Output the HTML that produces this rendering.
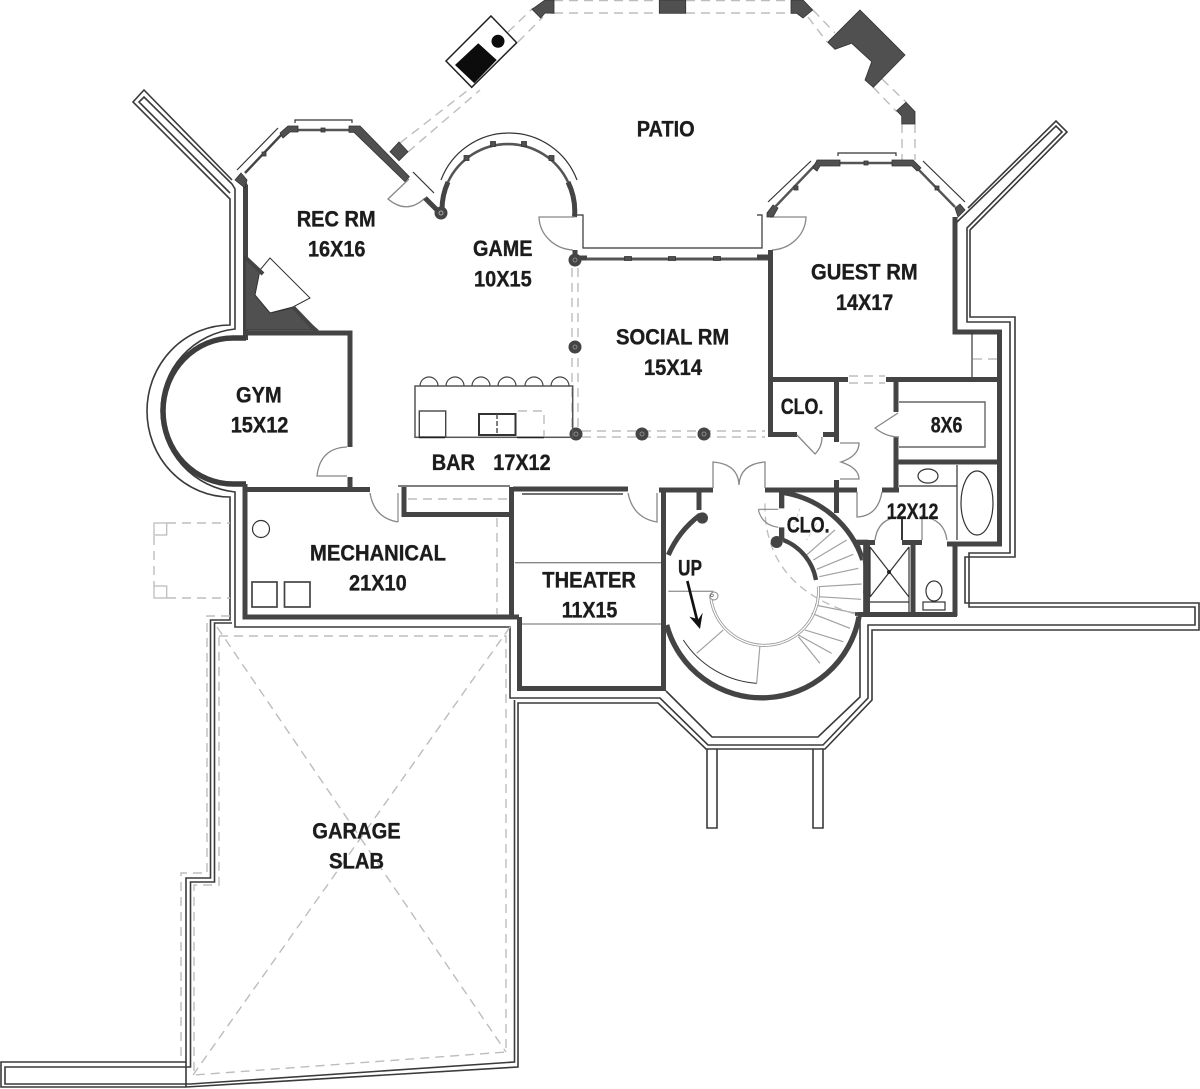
<!DOCTYPE html>
<html>
<head>
<meta charset="utf-8">
<style>
html,body{margin:0;padding:0;background:#fff}
svg{display:block}
text{font-family:"Liberation Sans",Arial,sans-serif;font-weight:bold;font-size:22px;fill:#1c1c1c;stroke:#1c1c1c;stroke-width:.35}
.w{fill:none;stroke:#444;stroke-width:5}
.o{fill:none;stroke:#3a3a3a;stroke-width:1.6}
.t{fill:none;stroke:#333;stroke-width:1.2}
.g{fill:none;stroke:#888;stroke-width:1.3}
.d{fill:none;stroke:#bdbdbd;stroke-width:1.4;stroke-dasharray:9 6}
.f{fill:#505050;stroke:#333;stroke-width:.8}
</style>
</head>
<body>
<svg xmlns="http://www.w3.org/2000/svg" width="1200" height="1089" viewBox="0 0 1200 1089">
<rect width="1200" height="1089" fill="#fff"/>

<!-- patio dashes -->
<path class="d" d="M554 .5H659M686 .5H791M554 13H659M686 13H791"/>
<path class="d" d="M400 143L472 87M408 152L480 90M508 32L533 8M518 42L543 17"/>
<path class="d" d="M808 17L827 42M813 10L835 33M873 87L897 112M882 79L906 102M902 124V160M915 124V160"/>
<polygon points="491,16 516.7,42.7 471.7,87.3 446,61" fill="#fff" stroke="#222" stroke-width="1.5"/>
<polygon points="478.3,43.3 496.7,60 474.3,83.3 455,65" fill="#0c0c0c"/>
<circle cx="498" cy="41.3" r="6.5" fill="#0c0c0c"/>
<polygon class="f" points="399,142 408,151.7 399,160.7 390,151.7"/>
<polygon class="f" points="545,0 554,0 554,13.3 545,13 540.7,18 532,9.3"/>
<rect class="f" x="659.3" y="0" width="26.4" height="13.3"/>
<polygon class="f" points="791,0 803,0 812.7,10 803,18 796.7,13.3 791,13.3"/>
<polygon class="f" points="860,10 905,55 873.3,87.3 865,80 871.7,61.7 851.7,43.3 835,49.3 827.7,42.3"/>
<polygon class="f" points="906,102.3 915,111.7 915,124 901.7,124 901.7,116 896.7,110.7"/>

<!-- outer foundation lines -->
<path class="o" d="M232 180L144 90L133 102L230 199V325A83 86 0 0 0 230 497V620H210.5V878H186V1062H1V1087H186L518 1067V703H658L706 749H825L872 700V630H1199V603H965V557H1015V317H970V230L1067 132L1056 121L968 208"/>
<path class="o" d="M230 193L139 102L144 97L232 184L235 189V329A83 82 0 0 0 235 492V627H510V698H660L708 745H823L868 698V625H1195V607H969V553H1010V322H967V228L1062 132L1056 126L957 222"/>
<path class="o" d="M232 623H214.5V882H190.5V1067H5V1084H190.5L514.5 1062V700M186 1062V1087M190.5 1062V1067"/>
<path class="o" d="M666 691L712 737H818L860 697V617"/>
<path class="o" d="M707 749V828H717V749M813 749V828H823V749"/>

<!-- garage dashed -->
<path class="d" d="M230 616H207V873H181V1060M219 636H506V1052L194 1075V885H219V636"/>
<path class="d" d="M217 627L506 1052M510 627L193 1075"/>

<!-- porch left -->
<path class="d" d="M167 523H230M167 598H230M154 536V586"/>
<rect x="154" y="523" width="12.7" height="12" fill="none" stroke="#bdbdbd" stroke-width="1.3"/>
<rect x="154" y="586" width="12.7" height="12" fill="none" stroke="#bdbdbd" stroke-width="1.3"/>

<!-- rec room -->
<path class="w" d="M241 178L245.5 186V340" stroke-width="4.5"/>
<polygon class="f" points="235,180 241,173 247,180 245,188"/>
<path d="M245 173L283 133" stroke="#444" stroke-width="2.4" fill="none"/>
<path class="t" d="M237 170L278 128"/>
<path class="t" d="M295 123V120H352V123"/>
<path d="M298 130H350" stroke="#555" stroke-width="2.4"/>
<rect class="f" x="321" y="128" width="4" height="4"/>
<rect class="f" x="262" y="152" width="4" height="4"/>
<polygon class="f" points="280,133 288,126 298,126 298,132 290,132 283,138"/>
<polygon class="f" points="349,126 360,126 409.3,176.7 405,181.7 354,132.3 349,132.3"/>
<path class="t" d="M413 172L434 193"/>
<path class="g" d="M409 179L388 199Q407 215 425 198"/>
<path class="w" d="M425 198L438 211"/>
<polygon class="f" points="245,257 263,273 255,295 270,313 293,308 318,330 245,330"/>
<polygon points="270,258 310,298 293,307 270,313 255,295 260,270" fill="#fff" stroke="#333" stroke-width="1"/>
<path d="M246 258L263 274M293 307L316 331" stroke="#444" stroke-width="4"/>

<!-- game arc -->
<path d="M448 182A66.4 66.4 0 0 1 568 182" fill="none" stroke="#555" stroke-width="2.6"/>
<path class="w" d="M442 210A66.4 66.4 0 0 1 448 182M568 182A66.4 66.4 0 0 1 574.5 217"/>
<path class="t" d="M441 180A72.7 72.7 0 0 1 577 180"/>
<rect class="f" x="464" y="155.5" width="5" height="5"/><rect class="f" x="490.5" y="141.5" width="5" height="5"/>
<rect class="f" x="521.5" y="141.5" width="5" height="5"/><rect class="f" x="549" y="155.5" width="5" height="5"/>
<circle cx="441" cy="213" r="6.5" fill="#444"/><circle cx="441" cy="213" r="2" fill="none" stroke="#aaa"/>
<path class="g" d="M575 217H539A36 34 0 0 0 573 250"/>
<path class="t" d="M577 215H583V248H762V215H757" stroke-width="1.4"/>
<path class="g" d="M770 217H806A36 34 0 0 1 772 250"/>

<!-- social room -->
<path d="M575 259H770" stroke="#555" stroke-width="3"/>
<rect class="f" x="624.5" y="256.5" width="7" height="4"/><rect class="f" x="668.5" y="256.5" width="7" height="4"/><rect class="f" x="713.5" y="256.5" width="7" height="4"/>
<path class="w" d="M575 250V262M575 258H587" stroke-width="5"/>
<path class="w" d="M757 257H770" stroke-width="6"/>
<path class="w" d="M770.5 250V437" stroke-width="5.5"/>
<path class="d" d="M572 268V428M578 268V428M582 431H765M582 437H765"/>
<g fill="#444">
<circle cx="575" cy="260" r="6.5"/><circle cx="575" cy="347" r="6.5"/><circle cx="576" cy="434" r="6.5"/><circle cx="642" cy="434" r="6.5"/><circle cx="704" cy="434" r="6.5"/>
</g>
<g fill="none" stroke="#999" stroke-width=".8">
<circle cx="575" cy="260" r="2"/><circle cx="575" cy="347" r="2"/><circle cx="576" cy="434" r="2"/><circle cx="642" cy="434" r="2"/><circle cx="704" cy="434" r="2"/>
</g>

<!-- guest room -->
<polygon class="f" points="767,213 773,205 778,208 773,217 767,217"/>
<path d="M775 207L817 163M840 163H892M917 168L955 207" stroke="#555" stroke-width="2.4" fill="none"/>
<path class="t" d="M768 202L811 161M838 156V153H896V156M923 161L965 202"/>
<rect class="f" x="864" y="161" width="4" height="4"/>
<rect class="f" x="794" y="186" width="4" height="4"/>
<rect class="f" x="935" y="186" width="4" height="4"/>
<polygon class="f" points="813,168 817,160 840,160 840,166 820,166 817,171"/>
<polygon class="f" points="892,160 913,160 921,168 917,171 912,166 892,166"/>
<polygon class="f" points="955,208 960,204 965,210 958,217"/>
<path class="w" d="M955 217V332H999.5V544H947" stroke-width="4.8"/>
<path class="t" d="M972 333V378"/>
<path class="d" d="M973 359H997" stroke-dasharray="7 5"/>
<path class="w" d="M768 379.5H848M886 379.5H999"/>
<path class="d" d="M849 376H885M849 383H885"/>

<!-- closets / hall -->
<path class="w" d="M768 434.5H797M823 434.5H838" stroke-width="5"/>
<path class="w" d="M836.5 380V442" stroke-width="6"/>
<path class="g" d="M797 435L815 454Q822 447 822 437"/>
<path class="w" d="M896 380V412M896 437V490"/>
<path class="g" d="M898 413L875 428Q886 437 899 437"/>
<path class="t" d="M899 402H985V447H899" style="stroke:#666;stroke-width:1.4"/>
<path class="w" d="M897 462H999" stroke-width="5.5"/>
<path class="t" d="M957 465V540M899 486H957"/>
<ellipse cx="977" cy="503" rx="16" ry="32" class="t"/>
<ellipse cx="928" cy="476" rx="10" ry="7" class="t"/>
<path class="w" d="M765 490H857M882 490H899M513 489H628M659 490H713" stroke-width="5"/>
<path class="w" d="M836.5 480V513" stroke-width="6"/>
<path class="g" d="M840 443H859Q859 456 841 462Q859 468 859 479H840"/>
<path class="g" d="M857 492V517Q878 516 882 492"/>
<path class="g" d="M713 488V462Q738 464 739 485Q740 464 765 462V488"/>
<path class="w" d="M855 542.5H875M902 542.5H922" stroke-width="5"/>
<path class="g" d="M875 540Q878 518 900 517"/>
<path d="M902 517V540" stroke="#222" stroke-width="1.8"/>
<path class="g" d="M922 515V540M923 517Q944 519 947 540"/>
<path class="w" d="M867.5 540V612" stroke-width="3.5"/>
<path class="w" d="M913 540V615" stroke-width="5.5"/>
<path class="w" d="M955 543V616" stroke-width="4.5"/>
<path class="w" d="M858 614.5H957" stroke-width="3.5"/>
<path class="t" d="M870 547L909 597M909 547L870 597M870 547V597M909 547V612M870 602H909"/>
<circle cx="889" cy="572" r="2" fill="#222"/>
<ellipse cx="934" cy="591" rx="8" ry="10" class="t"/>
<rect x="923" y="602" width="22" height="8" class="t"/>

<!-- gym -->
<path class="w" d="M246 338H233A70 73 0 0 0 233 484H246" style="stroke-width:5.5;stroke:#3d3d3d"/>
<path class="w" d="M245 333H350V447M350 477V490M245 489.5H370M245 484V617H519" stroke-width="5"/>
<path class="g" d="M347 447Q320 448 317 476H347"/>
<path class="t" d="M398 493V522" style="stroke:#888"/>
<path class="g" d="M370 493Q374 518 398 522"/>
<path class="w" d="M404 487V514.5H511" stroke-width="5"/>
<path class="t" d="M398 486H510"/>
<path class="w" d="M511.5 487V617" stroke-width="6"/>
<path class="d" d="M408 499H508M497 518V614"/>
<circle cx="261" cy="529" r="8.5" class="t"/>
<rect x="252" y="582" width="25" height="25" fill="none" stroke="#444" stroke-width="1.7"/>
<rect x="284.5" y="582" width="25.5" height="25" fill="none" stroke="#444" stroke-width="1.7"/>

<!-- theater -->
<path class="w" d="M519.5 617V688.5H666" stroke-width="4.5"/>
<path class="w" d="M663.5 490V688" stroke-width="5"/>
<path class="g" d="M515 562.7H661M522 624H661"/>
<path d="M522 494H623" stroke="#444" stroke-width="1.4"/>
<path class="g" d="M628 493Q633 518 657 522V493"/>

<!-- bar -->
<rect x="415" y="386" width="157.7" height="51.3" fill="none" stroke="#555" stroke-width="1.5"/>
<path class="t" d="M420 386a9 9 0 0 1 18 0M446 386a9 9 0 0 1 18 0M472 386a9 9 0 0 1 18 0M498 386a9 9 0 0 1 18 0M525 386a9 9 0 0 1 18 0M551 386a9 9 0 0 1 18 0" style="stroke:#444"/>
<rect x="419.3" y="411" width="26.4" height="26" fill="none" stroke="#444" stroke-width="1.4"/>
<rect x="479" y="414" width="36.5" height="21" fill="none" stroke="#333" stroke-width="2"/>
<path d="M497 414V435" stroke="#555" stroke-width="1.5" stroke-dasharray="5 2"/>
<path class="d" d="M518 411H544V436" stroke-dasharray="7 4"/>
<path d="M517 437.5H544M419 437.5H445" stroke="#222" stroke-width="1.6"/>

<!-- stairs -->
<g transform="translate(500 440) scale(.33333)">
<g fill="none" stroke="#a0a0a0" stroke-width="3.5">
<path d="M920 345L1005 270M940 360L1040 300M950 388L1060 343M958 410L1075 385M955 440L1085 432M955 470L1083 478M945 495L1070 520M935 520L1050 565M915 570L1030 605M895 585L995 640M895 590L960 670M780 615L770 730M670 570L590 640"/>
</g>
<path d="M505 454H640" stroke="#999" stroke-width="4"/>
<path d="M795 190Q790 440 1065 522" fill="none" stroke="#bdbdbd" stroke-width="4" stroke-dasharray="24 16"/>
<path d="M950 250L920 300M900 205L880 260" fill="none" stroke="#cfcfcf" stroke-width="3" stroke-dasharray="10 8"/>
<path d="M632 468A159 159 0 1 0 955 440" fill="none" stroke="#999" stroke-width="9"/>
<path d="M632 468A159 159 0 1 0 955 440" fill="none" stroke="#fff" stroke-width="4"/>
<circle cx="642" cy="468" r="12" fill="#fff" stroke="#888" stroke-width="3"/>
<circle cx="636" cy="466" r="4" fill="#fff" stroke="#666" stroke-width="2"/>
<path d="M850 300A159 159 0 0 1 948 420" fill="none" stroke="#444" stroke-width="13"/>
<path d="M845 155V205M845 262V302" fill="none" stroke="#444" stroke-width="16"/>
<circle cx="830" cy="306" r="18" fill="#444"/>
<path d="M850 158A300 300 0 0 1 1088 360" fill="none" stroke="#444" stroke-width="15"/>
<path d="M1085 340A300 300 0 0 1 1090 460" fill="none" stroke="#777" stroke-width="3"/>
<path d="M597 155V210" stroke="#444" stroke-width="15"/>
<path d="M600 225A300 300 0 0 0 505 345" fill="none" stroke="#444" stroke-width="15"/>
<circle cx="607" cy="234" r="17" fill="#444"/>
<path d="M500 555A296 296 0 0 0 1077 530" fill="none" stroke="#444" stroke-width="16"/>
<path d="M550 600A285 285 0 0 0 770 730" fill="none" stroke="#333" stroke-width="3"/>
<path d="M1075 310H1100L1090 350Z" fill="none" stroke="#444" stroke-width="5"/>
<path d="M1097 305V525" stroke="#444" stroke-width="15"/>
<path d="M1060 305H1105" stroke="#444" stroke-width="12"/>
<path d="M1065 522H1200" stroke="#444" stroke-width="11"/>
<path d="M562 423L595 555" stroke="#111" stroke-width="8"/>
<polygon points="568,530 600,567 608,518 595,538" fill="#111"/>
<path d="M775 208H835M775 208Q785 255 835 262" fill="none" stroke="#888" stroke-width="3.5"/>
</g>

<!-- labels -->
<text x="636.7" y="136.7" textLength="58" lengthAdjust="spacingAndGlyphs">PATIO</text>
<text x="296.7" y="226.7" textLength="79" lengthAdjust="spacingAndGlyphs">REC RM</text>
<text x="308" y="256.7" textLength="57.5" lengthAdjust="spacingAndGlyphs">16X16</text>
<text x="473" y="256" textLength="59.5" lengthAdjust="spacingAndGlyphs">GAME</text>
<text x="474" y="286.7" textLength="57.7" lengthAdjust="spacingAndGlyphs">10X15</text>
<text x="616" y="344.3" textLength="113.3" lengthAdjust="spacingAndGlyphs">SOCIAL RM</text>
<text x="644" y="375" textLength="58" lengthAdjust="spacingAndGlyphs">15X14</text>
<text x="811" y="279.3" textLength="106.7" lengthAdjust="spacingAndGlyphs">GUEST RM</text>
<text x="836" y="310" textLength="57.3" lengthAdjust="spacingAndGlyphs">14X17</text>
<text x="236" y="402.3" textLength="45.7" lengthAdjust="spacingAndGlyphs">GYM</text>
<text x="230.7" y="432.3" textLength="57.7" lengthAdjust="spacingAndGlyphs">15X12</text>
<text x="310" y="560.7" textLength="136" lengthAdjust="spacingAndGlyphs">MECHANICAL</text>
<text x="349" y="590.7" textLength="57.7" lengthAdjust="spacingAndGlyphs">21X10</text>
<text x="431.7" y="470" textLength="43.3" lengthAdjust="spacingAndGlyphs">BAR</text>
<text x="493.3" y="470" textLength="57.3" lengthAdjust="spacingAndGlyphs">17X12</text>
<text x="542.3" y="587.7" textLength="93.7" lengthAdjust="spacingAndGlyphs">THEATER</text>
<text x="561.7" y="617.3" textLength="55.6" lengthAdjust="spacingAndGlyphs">11X15</text>
<text x="678" y="575.7" textLength="24" lengthAdjust="spacingAndGlyphs">UP</text>
<text x="786.7" y="532.3" textLength="43" lengthAdjust="spacingAndGlyphs">CLO.</text>
<text x="780.7" y="414" textLength="42.7" lengthAdjust="spacingAndGlyphs">CLO.</text>
<text x="930.7" y="432.3" textLength="31.7" lengthAdjust="spacingAndGlyphs">8X6</text>
<text x="886.7" y="519" textLength="51.7" lengthAdjust="spacingAndGlyphs">12X12</text>
<text x="312.3" y="838.3" textLength="88.4" lengthAdjust="spacingAndGlyphs">GARAGE</text>
<text x="329" y="868.3" textLength="55" lengthAdjust="spacingAndGlyphs">SLAB</text>
</svg>
</body>
</html>
